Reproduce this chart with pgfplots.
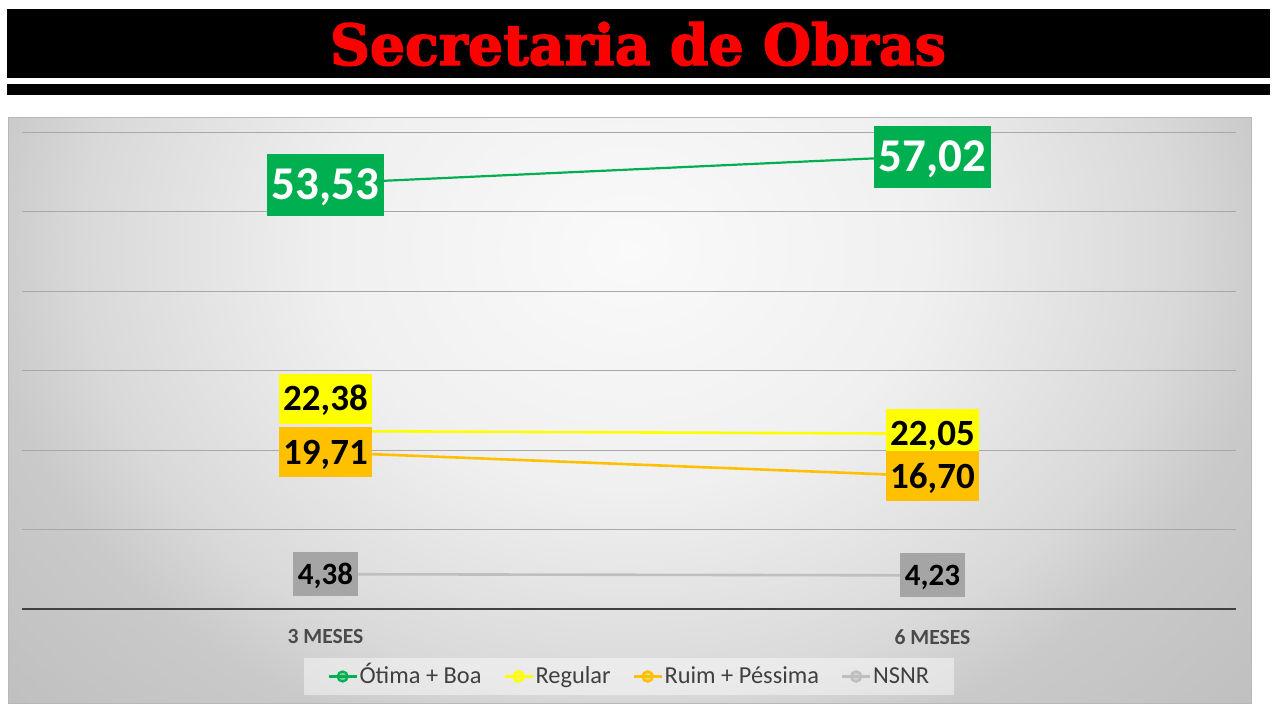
\documentclass[border=0pt]{standalone}
\usepackage{fontspec}
\setmainfont{Carlito}
\newfontfamily\titlefont[FakeBold=2.5]{DejaVu Serif}
\usepackage{graphicx}
\usepackage{pgfplots}
\pgfplotsset{compat=1.18}

\definecolor{cgreen}{HTML}{00B050}
\definecolor{cyellow}{HTML}{FFFF00}
\definecolor{corange}{HTML}{FFC000}
\definecolor{cgrayline}{HTML}{BFBFBF}
\definecolor{cgraybox}{HTML}{A5A5A5}
\definecolor{cgrid}{HTML}{A8A8A8}
\definecolor{ctick}{HTML}{4A4A4A}
\definecolor{cdark}{HTML}{404040}

\pgfdeclareradialshading{bgshade}{\pgfpoint{0bp}{0bp}}{color(0bp)=(white!98!black); color(12bp)=(white!94!black); color(22bp)=(white!85!black); color(26bp)=(white!79!black); color(34bp)=(white!75!black); color(50bp)=(white!75!black)}

\tikzset{
  lblbase/.style={inner sep=0pt, anchor=center, text depth=0pt, font=\bfseries},
  greenlbl/.style={lblbase, fill=cgreen, text=white, font=\bfseries\fontsize{23.5}{24}\selectfont, minimum width=58.5pt, minimum height=31pt, text height=15pt, yshift=-0.6pt},
  yellowlbl/.style={lblbase, fill=cyellow, text=black, font=\bfseries\fontsize{18.5}{20}\selectfont, minimum width=46.5pt, minimum height=25pt, text height=11.9pt},
  orangelbl/.style={lblbase, fill=corange, text=black, font=\bfseries\fontsize{18.5}{20}\selectfont, minimum width=46.5pt, minimum height=25pt, text height=11.9pt},
  graylbl/.style={lblbase, fill=cgraybox, text=black, font=\bfseries\fontsize{15.5}{16}\selectfont, minimum width=32.5pt, minimum height=22pt, text height=9.9pt},
}

\pgfplotsset{
  lbl/.style={forget plot, draw=none, mark=none,
    nodes near coords={\pgfmathprintnumber[fixed,fixed zerofill,precision=2,use comma,assume math mode=true]{\pgfplotspointmeta}},
    nodes near coords style={#1}},
  legline/.style={legend image code/.code={%
    \draw[##1, line width=1.3pt] (0pt,0pt) -- (14pt,0pt);
    \fill[##1] (7pt,0pt) circle (2.5pt);}},
}

\begin{document}
\begin{tikzpicture}
\path[use as bounding box, fill=white] (0,0) rectangle (640pt,360pt);
% title bars
\fill[black] (3.5pt,321pt) rectangle (635pt,355.5pt);
\fill[black] (3.5pt,312.5pt) rectangle (635pt,318pt);
\node[anchor=base, inner sep=0pt, text=red] at (319pt,327.5pt)
  {\resizebox{308pt}{21.5pt}{\titlefont\bfseries Secretaria de Obras}};
% chart area
\begin{scope}
\clip (4pt,8.5pt) rectangle (625.5pt,301.5pt);
\shade[shading=bgshade] (4pt,-15pt) rectangle (625.5pt,485pt);
\end{scope}
\draw[white!72!black, line width=0.5pt] (4pt,8.5pt) rectangle (625.5pt,301.5pt);

\begin{axis}[
  at={(11pt,55.5pt)}, anchor=south west,
  scale only axis, width=607pt, height=238.5pt,
  xmin=-0.5, xmax=1.5, ymin=0, ymax=60,
  xtick={0,1}, xticklabels={3 MESES,6 MESES},
  ytick={10,20,30,40,50,60}, yticklabels={},
  extra y ticks={0}, extra y tick labels={},
  extra y tick style={major grid style={draw=cdark, line width=1.1pt}},
  ymajorgrids, major grid style={draw=cgrid, line width=0.5pt},
  axis line style={draw=none}, major tick length=0pt,
  xticklabel style={font=\bfseries\fontsize{10.8}{12}\selectfont, text=ctick, yshift=-6.6pt},
  clip=false,
  legend columns=4,
  legend cell align=left,
  legend style={at={(0.5,-0.1415)}, anchor=center,
    fill=white, fill opacity=0.45, text opacity=1, draw=none,
    font=\fontsize{12.2}{14}\selectfont, text=cdark,
    inner xsep=11.7pt, inner ysep=2.5pt,
    nodes={inner sep=0.8pt, text height=9.2pt, text depth=2.6pt},
    /tikz/every even column/.append style={column sep=10.1pt}},
]
\addplot[cgreen, line width=1.1pt, mark=none, legline] coordinates {(0,53.53) (1,57.02)};
\addlegendentry{Ótima + Boa}
\addplot[cyellow, line width=1.3pt, mark=none, legline] coordinates {(0,22.38) (1,22.05)};
\addlegendentry{Regular}
\addplot[corange, line width=1.3pt, mark=none, legline] coordinates {(0,19.71) (1,16.70)};
\addlegendentry{Ruim + Péssima}
\addplot[cgrayline, line width=1.3pt, mark=none, legline] coordinates {(0,4.38) (1,4.23)};
\addlegendentry{NSNR}

% data labels
\addplot[lbl={greenlbl}] coordinates {(0,53.53) (1,57.02)};
\addplot[lbl={yellowlbl, yshift=16.25pt}] coordinates {(0,22.38)};
\addplot[lbl={yellowlbl}] coordinates {(1,22.05)};
\addplot[lbl={orangelbl}] coordinates {(0,19.71) (1,16.70)};
\addplot[lbl={graylbl}] coordinates {(0,4.38) (1,4.23)};
\end{axis}
\end{tikzpicture}
\end{document}
